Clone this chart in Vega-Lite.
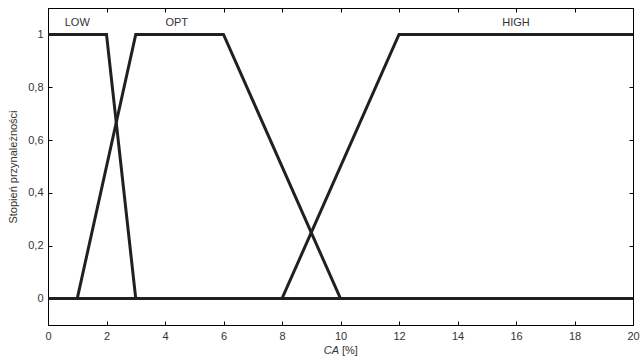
{
  "$schema": "https://vega.github.io/schema/vega-lite/v6.json",
  "width": 585,
  "height": 317,
  "autosize": {"type": "none"},
  "padding": {"left": 48, "top": 8, "right": 9, "bottom": 35},
  "background": "white",
  "config": {
    "view": {"stroke": "black", "strokeWidth": 1},
    "font": "Liberation Sans",
    "axis": {
      "domainColor": "black",
      "tickColor": "black",
      "labelColor": "#333333",
      "titleColor": "#333333",
      "labelFontSize": 11,
      "titleFontSize": 11,
      "titleFontWeight": "normal",
      "labelFont": "Liberation Sans",
      "titleFont": "Liberation Sans",
      "grid": false,
      "tickSize": -4,
      "labelPadding": 9
    }
  },
  "datasets": {
    "curves": [
      {"set": "LOW", "x": 0, "y": 1},
      {"set": "LOW", "x": 2, "y": 1},
      {"set": "LOW", "x": 3, "y": 0},
      {"set": "LOW", "x": 20, "y": 0},
      {"set": "OPT", "x": 0, "y": 0},
      {"set": "OPT", "x": 1, "y": 0},
      {"set": "OPT", "x": 3, "y": 1},
      {"set": "OPT", "x": 6, "y": 1},
      {"set": "OPT", "x": 10, "y": 0},
      {"set": "OPT", "x": 20, "y": 0},
      {"set": "HIGH", "x": 0, "y": 0},
      {"set": "HIGH", "x": 8, "y": 0},
      {"set": "HIGH", "x": 12, "y": 1},
      {"set": "HIGH", "x": 20, "y": 1}
    ],
    "names": [
      {"name": "LOW", "x": 1.0, "y": 1.045},
      {"name": "OPT", "x": 4.4, "y": 1.045},
      {"name": "HIGH", "x": 16.0, "y": 1.045}
    ]
  },
  "resolve": {"axis": {"x": "independent", "y": "independent"}},
  "layer": [
    {
      "data": {"name": "curves"},
      "mark": {"type": "line", "color": "#231f20", "strokeWidth": 3, "strokeJoin": "miter", "clip": true},
      "encoding": {
        "x": {"field": "x", "type": "quantitative", "scale": {"domain": [0, 20], "nice": false, "zero": false},
          "axis": {"orient": "bottom", "values": [0, 2, 4, 6, 8, 10, 12, 14, 16, 18, 20], "title": null, "labelFlush": false}},
        "y": {"field": "y", "type": "quantitative", "scale": {"domain": [-0.1, 1.1], "nice": false, "zero": false},
          "axis": {"orient": "left", "values": [0, 0.2, 0.4, 0.6, 0.8, 1], "title": "Stopień przynależności", "titlePadding": 9,
            "labelExpr": "replace(format(datum.value, ''), '.', ',')"}},
        "detail": {"field": "set"}
      }
    },
    {
      "data": {"values": [{"x": 0, "y": 0}]},
      "mark": {"type": "point", "opacity": 0},
      "encoding": {
        "x": {"field": "x", "type": "quantitative", "axis": {"orient": "top", "values": [0, 2, 4, 6, 8, 10, 12, 14, 16, 18, 20], "labels": false, "title": null}},
        "y": {"field": "y", "type": "quantitative", "axis": {"orient": "right", "values": [0, 0.2, 0.4, 0.6, 0.8, 1], "labels": false, "title": null}}
      }
    },
    {
      "data": {"name": "names"},
      "mark": {"type": "text", "fontSize": 11, "color": "#333333", "font": "Liberation Sans"},
      "encoding": {
        "x": {"field": "x", "type": "quantitative", "axis": null},
        "y": {"field": "y", "type": "quantitative", "axis": null},
        "text": {"field": "name"}
      }
    },
    {
      "data": {"values": [{"x": 9.95, "y": -0.197, "t": "CA"}]},
      "mark": {"type": "text", "fontSize": 11, "color": "#333333", "fontStyle": "italic", "align": "right", "font": "Liberation Sans"},
      "encoding": {
        "x": {"field": "x", "type": "quantitative", "axis": null},
        "y": {"field": "y", "type": "quantitative", "axis": null},
        "text": {"field": "t"}
      }
    },
    {
      "data": {"values": [{"x": 10.05, "y": -0.197, "t": "[%]"}]},
      "mark": {"type": "text", "fontSize": 11, "color": "#333333", "align": "left", "font": "Liberation Sans"},
      "encoding": {
        "x": {"field": "x", "type": "quantitative", "axis": null},
        "y": {"field": "y", "type": "quantitative", "axis": null},
        "text": {"field": "t"}
      }
    }
  ]
}
